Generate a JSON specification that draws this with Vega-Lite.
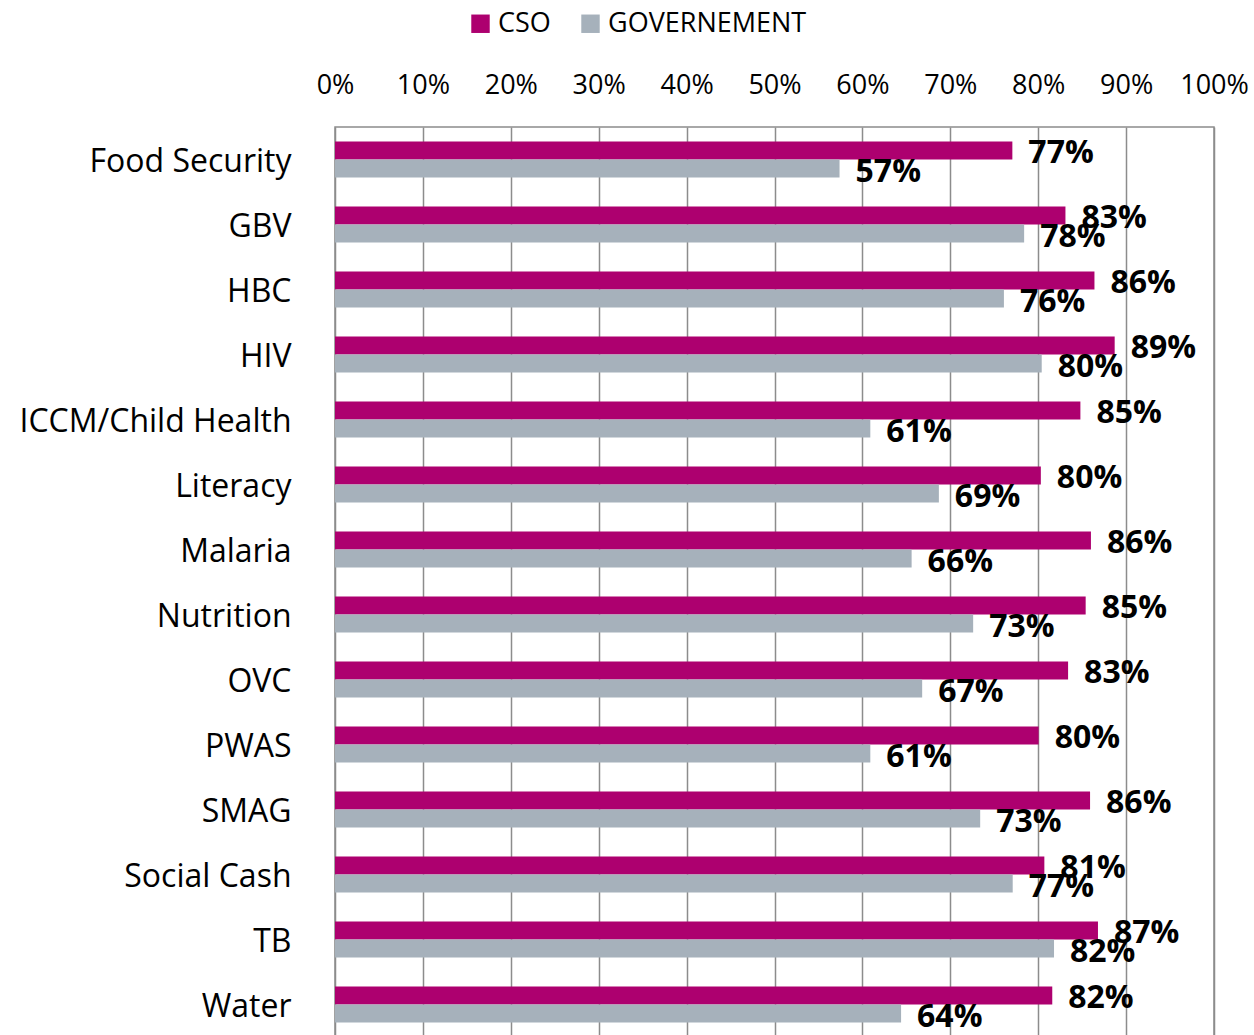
{
  "$schema": "https://vega.github.io/schema/vega-lite/v6.json",
  "autosize": {"type": "none"},
  "padding": {"left": 335, "top": 127, "right": 40, "bottom": 0},
  "width": 879,
  "height": 910,
  "background": "white",
  "config": {
    "view": {"stroke": "#8c8c8c", "strokeWidth": 1.5},
    "font": "Open Sans"
  },
  "data": {
    "values": [
      {"category": "Food Security", "series": "CSO", "value": 0.7706},
      {"category": "Food Security", "series": "GOVERNEMENT", "value": 0.574},
      {"category": "GBV", "series": "CSO", "value": 0.831},
      {"category": "GBV", "series": "GOVERNEMENT", "value": 0.784},
      {"category": "HBC", "series": "CSO", "value": 0.864},
      {"category": "HBC", "series": "GOVERNEMENT", "value": 0.761},
      {"category": "HIV", "series": "CSO", "value": 0.887},
      {"category": "HIV", "series": "GOVERNEMENT", "value": 0.804},
      {"category": "ICCM/Child Health", "series": "CSO", "value": 0.848},
      {"category": "ICCM/Child Health", "series": "GOVERNEMENT", "value": 0.609},
      {"category": "Literacy", "series": "CSO", "value": 0.803},
      {"category": "Literacy", "series": "GOVERNEMENT", "value": 0.687},
      {"category": "Malaria", "series": "CSO", "value": 0.86},
      {"category": "Malaria", "series": "GOVERNEMENT", "value": 0.656},
      {"category": "Nutrition", "series": "CSO", "value": 0.854},
      {"category": "Nutrition", "series": "GOVERNEMENT", "value": 0.726},
      {"category": "OVC", "series": "CSO", "value": 0.834},
      {"category": "OVC", "series": "GOVERNEMENT", "value": 0.668},
      {"category": "PWAS", "series": "CSO", "value": 0.8005},
      {"category": "PWAS", "series": "GOVERNEMENT", "value": 0.609},
      {"category": "SMAG", "series": "CSO", "value": 0.859},
      {"category": "SMAG", "series": "GOVERNEMENT", "value": 0.734},
      {"category": "Social Cash", "series": "CSO", "value": 0.807},
      {"category": "Social Cash", "series": "GOVERNEMENT", "value": 0.771},
      {"category": "TB", "series": "CSO", "value": 0.868},
      {"category": "TB", "series": "GOVERNEMENT", "value": 0.818},
      {"category": "Water", "series": "CSO", "value": 0.816},
      {"category": "Water", "series": "GOVERNEMENT", "value": 0.644}
    ]
  },
  "encoding": {
    "y": {
      "field": "category",
      "type": "nominal",
      "sort": null,
      "scale": {"paddingInner": 0.446, "paddingOuter": 0.223},
      "axis": {
        "title": null,
        "ticks": false,
        "domain": false,
        "labelPadding": 44,
        "labelOffset": 2,
        "labelLimit": 0,
        "labelFontSize": 32,
        "labelFont": "Open Sans",
        "labelColor": "#000000"
      }
    },
    "yOffset": {
      "field": "series",
      "type": "nominal",
      "sort": ["CSO", "GOVERNEMENT"],
      "scale": {"paddingInner": 0, "paddingOuter": 0}
    },
    "x": {
      "field": "value",
      "type": "quantitative",
      "scale": {"domain": [0, 1], "nice": false},
      "axis": {
        "orient": "top",
        "title": null,
        "format": ".0%",
        "values": [0, 0.1, 0.2, 0.3, 0.4, 0.5, 0.6, 0.7, 0.8, 0.9, 1],
        "grid": true,
        "gridColor": "#8c8c8c",
        "gridWidth": 1.5,
        "gridOpacity": 1,
        "ticks": false,
        "domain": false,
        "labelPadding": 28,
        "labelFontSize": 27,
        "labelFont": "Open Sans",
        "labelColor": "#000000",
        "labelFlush": false
      }
    }
  },
  "layer": [
    {
      "mark": {"type": "bar"},
      "encoding": {
        "color": {
          "field": "series",
          "type": "nominal",
          "sort": ["CSO", "GOVERNEMENT"],
          "scale": {"domain": ["CSO", "GOVERNEMENT"], "range": ["#AD006F", "#A6B1BB"]},
          "legend": {
            "title": null,
            "orient": "none",
            "direction": "horizontal",
            "legendX": 132,
            "legendY": -117,
            "padding": 0,
            "symbolType": "square",
            "symbolSize": 340,
            "symbolStrokeWidth": 0,
            "labelFont": "Open Sans",
            "labelFontSize": 27,
            "labelColor": "#000000",
            "labelLimit": 0,
            "labelOffset": 4,
            "columnPadding": 26
          }
        }
      }
    },
    {
      "mark": {
        "type": "text",
        "align": "left",
        "baseline": "middle",
        "dx": 16,
        "dy": 3,
        "fontSize": 32,
        "fontWeight": "bold",
        "font": "Open Sans",
        "color": "#000000"
      },
      "encoding": {
        "text": {"field": "value", "type": "quantitative", "format": ".0%"}
      }
    }
  ]
}
